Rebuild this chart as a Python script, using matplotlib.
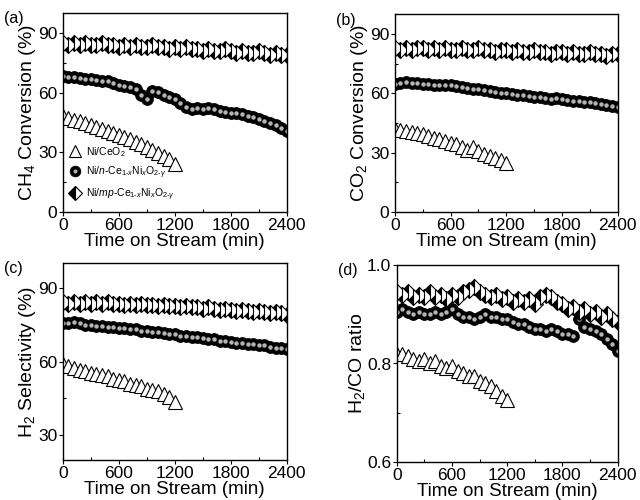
import matplotlib
matplotlib.use("Agg")
import matplotlib.pyplot as plt
from matplotlib.ticker import MultipleLocator

plt.rcParams['font.family'] = ['Liberation Sans', 'DejaVu Sans']
plt.rcParams['mathtext.fontset'] = 'custom'
plt.rcParams['mathtext.rm'] = 'Liberation Sans'
plt.rcParams['mathtext.it'] = 'Liberation Sans:italic'

# sampling times (min)
t_long = list(range(0, 2401, 60))
t_short = list(range(0, 1201, 60))

# (a) CH4 conversion (%)
ch4_mp = [85, 84, 85, 84, 85, 84, 84, 85, 84, 84, 83, 84, 83, 84, 83, 83, 84, 83, 83, 82, 83,
          82, 83, 82, 82, 81, 82, 81, 81, 82, 81, 80, 81, 80, 80, 81, 80, 79, 80, 79, 79]
ch4_n = [68.5, 68, 68, 67.5, 67, 67, 66.5, 66, 66, 65, 64, 63.5, 63, 62, 59, 57, 61, 60.5, 59, 58, 57,
         55, 53, 52, 52.5, 52, 52.5, 52, 51, 50.5, 50, 49.5, 49, 48, 47.5, 46.5, 45.5, 44.5, 43.5, 42, 40.5]
ch4_ceo2 = [48, 47, 46, 45.5, 44.5, 43.5, 42.5, 41.5, 40.5, 39.5, 38.5,
            37.5, 36.5, 35, 34, 32.5, 31, 29.5, 28, 26.5, 24]

# (b) CO2 conversion (%)
co2_mp = [83, 82, 83, 82, 83, 83, 82, 83, 82, 83, 82, 82, 83, 82, 82, 83, 82, 82, 81, 82, 82,
          81, 82, 81, 81, 82, 81, 81, 80, 81, 81, 80, 81, 80, 80, 81, 80, 80, 79, 80, 80]
co2_n = [64.5, 65, 65.5, 65, 65, 64.5, 64.5, 64, 64, 64, 64, 63.5, 63, 62.5, 62, 62, 61.5, 61, 60.5, 60, 60,
         59.5, 59, 59, 58.5, 58, 58, 57.5, 57, 57.5, 57, 56.5, 56, 56, 55.5, 55.5, 55, 54.5, 54, 53.5, 53]
co2_ceo2 = [42, 41.5, 41, 40.5, 40, 39.5, 38.5, 37.5, 37, 36, 35,
            34.5, 33, 31.5, 33, 31, 29.5, 28.5, 27.5, 26.5, 24.5]

# (c) H2 selectivity (%)
h2_mp = [84, 83.5, 84, 83.5, 84, 83.5, 84, 83.5, 84, 83.5, 83.5, 83, 83.5, 83, 83.5, 83, 83, 82.5, 83, 82.5, 82.5,
         82, 82.5, 82, 82, 81.5, 82, 81.5, 81, 81.5, 81, 80.5, 81, 80.5, 80, 80.5, 80, 79.5, 80, 79.5, 79]
h2_n = [75.5, 75.5, 76, 75.5, 75, 75, 74.5, 74.5, 74, 74, 73.5, 73.5, 73, 73, 72.5, 72.5, 72, 72, 71.5, 71, 71,
        70.5, 70.5, 70, 70, 69.5, 69, 69, 68.5, 68.5, 68, 67.5, 67.5, 67, 67, 66.5, 66.5, 66, 65.5, 65.5, 65]
h2_ceo2 = [59, 58, 57.5, 56.5, 56, 55.5, 55, 54.5, 54, 53, 52.5,
           52, 51, 50.5, 50, 49, 48.5, 48, 47, 45.5, 43.5]

# (d) H2/CO ratio
ratio_mp = [0.945, 0.94, 0.945, 0.935, 0.94, 0.935, 0.945, 0.935, 0.94, 0.93, 0.94, 0.935, 0.945, 0.95,
            0.955, 0.945, 0.94, 0.935, 0.94, 0.93, 0.935, 0.925, 0.93, 0.925, 0.93, 0.92, 0.935, 0.94,
            0.935, 0.925, 0.92, 0.91, 0.915, 0.905, 0.91, 0.9, 0.905, 0.895, 0.9, 0.89, 0.885]
ratio_n = [0.905, 0.91, 0.905, 0.9, 0.905, 0.9, 0.9, 0.905, 0.9, 0.905, 0.91, 0.9, 0.895, 0.895,
           0.89, 0.895, 0.9, 0.895, 0.895, 0.89, 0.89, 0.885, 0.88, 0.88, 0.875, 0.87, 0.87, 0.865,
           0.87, 0.865, 0.86, 0.86, 0.855, 0.89, 0.875, 0.87, 0.865, 0.86, 0.85, 0.84, 0.825]
ratio_ceo2 = [0.82, 0.82, 0.815, 0.81, 0.805, 0.81, 0.8, 0.805, 0.795, 0.79, 0.795,
              0.785, 0.78, 0.775, 0.775, 0.765, 0.76, 0.755, 0.745, 0.735, 0.725]

labels = [r"Ni/CeO$_2$",
          r"Ni/$n$-Ce$_{1\text{-}x}$Ni$_x$O$_{2\text{-}\gamma}$",
          r"Ni/$mp$-Ce$_{1\text{-}x}$Ni$_x$O$_{2\text{-}\gamma}$"]

panels = [
    ("(a)", "CH$_4$ Conversion (%)", ch4_mp, ch4_n, ch4_ceo2, (0, 100), 30, 15, [0.098, 0.576, 0.35, 0.398]),
    ("(b)", "CO$_2$ Conversion (%)", co2_mp, co2_n, co2_ceo2, (0, 100), 30, 15, [0.617, 0.576, 0.348, 0.396]),
    ("(c)", "H$_2$ Selectivity (%)", h2_mp, h2_n, h2_ceo2, (20, 100), 30, 15, [0.098, 0.08, 0.35, 0.394]),
    ("(d)", "H$_2$/CO ratio", ratio_mp, ratio_n, ratio_ceo2, (0.6, 1.0), 0.2, 0.1, [0.620, 0.076, 0.345, 0.394]),
]

fig = plt.figure(figsize=(6.4, 5), dpi=100)

for tag, ylab, y_mp, y_n, y_ceo2, ylim, major, minor, pos in panels:
    ax = fig.add_axes(pos)
    tri, = ax.plot(t_short, y_ceo2, ls='none', marker='^', ms=10, mfc='white', mec='black', mew=0.8)
    circ, = ax.plot(t_long, y_n, ls='none', marker='o', ms=8.5, mfc='black', mec='black', mew=0.6)
    dot, = ax.plot(t_long, y_n, ls='none', marker='o', ms=3.2, mfc='#b4b4b4', mec='none')
    dia, = ax.plot(t_long, y_mp, ls='none', marker='D', ms=8, fillstyle='left',
                   mfc='black', mfcalt='white', mec='black', mew=0.8)

    ax.set_xlim(0, 2400)
    ax.set_ylim(*ylim)
    ax.xaxis.set_major_locator(MultipleLocator(600))
    ax.xaxis.set_minor_locator(MultipleLocator(300))
    ax.yaxis.set_major_locator(MultipleLocator(major))
    ax.yaxis.set_minor_locator(MultipleLocator(minor))
    ax.tick_params(which='major', direction='out', length=3, width=0.8, labelsize=12.5, pad=1)
    ax.tick_params(which='minor', direction='in', length=2, width=0.8)
    for sp in ax.spines.values():
        sp.set_linewidth(1.0)
    ax.set_xlabel("Time on Stream (min)", fontsize=13.5, labelpad=0.5)
    ax.set_ylabel(ylab, fontsize=14, labelpad=0)

    bb = ax.get_position()
    fig.text(bb.x0 - 0.092, bb.y1 - 0.012, tag, fontsize=11.5, va='center', ha='left')

    if tag == "(a)":
        ax.legend([tri, (circ, dot), dia], labels, loc='lower left', bbox_to_anchor=(0.0, 0.015),
                  frameon=False, fontsize=7.5, handlelength=1.2, handletextpad=0.4,
                  labelspacing=0.55, borderaxespad=0.2, markerscale=0.9)

fig.savefig("out.png", dpi=100)
